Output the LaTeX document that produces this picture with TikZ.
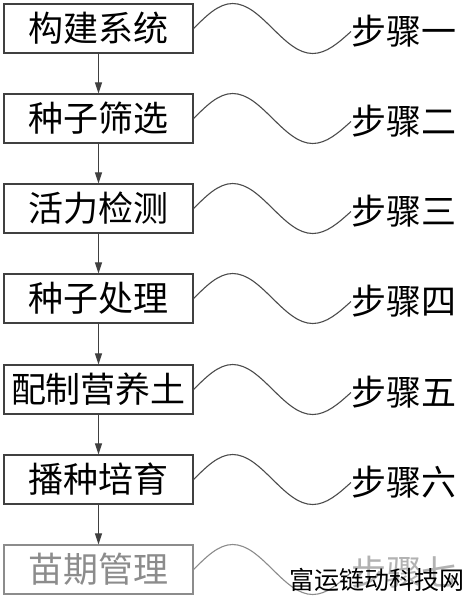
\documentclass[tikz,border=0pt]{standalone}
\usepackage{fontspec}
\newfontfamily\cjk{Noto Sans CJK SC}
\usetikzlibrary{arrows.meta}
\begin{document}
\begin{tikzpicture}[x=1pt,y=-1pt,
  stepbox/.style={draw=black!75, line width=1.3pt, minimum width=189pt, minimum height=49pt, inner sep=0pt, font=\cjk\fontsize{35}{35}\selectfont},
  steplabel/.style={anchor=west, inner sep=0pt, font=\cjk\fontsize{35}{35}\selectfont},
  flow/.style={draw=black!75, line width=1.2pt, -{Triangle[width=7pt,length=11pt]}},
  wave/.style={draw=black!70, line width=1.1pt}]
\fill[white] (0,0) rectangle (466,600);
\useasboundingbox (0,0) rectangle (466,600);
\node[stepbox] (b1) at (98.5,28.5) {构建系统};
\node[stepbox] (b2) at (98.5,118.5) {种子筛选};
\node[stepbox] (b3) at (98.5,208.5) {活力检测};
\node[stepbox] (b4) at (98.5,298.5) {种子处理};
\node[stepbox] (b5) at (98.5,389.5) {配制营养土};
\node[stepbox] (b6) at (98.5,479.5) {播种培育};
\node[stepbox, draw=black!45, text=black!45] (b7) at (98.5,569.5) {苗期管理};
\node[steplabel] (l1) at (351,31.5) {步骤一};
\node[steplabel] (l2) at (351,121.5) {步骤二};
\node[steplabel] (l3) at (351,211.5) {步骤三};
\node[steplabel] (l4) at (351,301.5) {步骤四};
\node[steplabel] (l5) at (351,392.5) {步骤五};
\node[steplabel] (l6) at (351,482.5) {步骤六};
\node[steplabel, text=black!30] (l7) at (351,572.5) {步骤七};
\foreach \i/\j in {1/2,2/3,3/4,4/5,5/6,6/7}{
  \draw[flow] (b\i.south) -- (b\j.north);
}
\foreach \i in {1,...,6}{
  \draw[wave] (b\i.east) sin ++(39,-25) cos ++(40,25) sin ++(40,25) cos (l\i.west);
}
\draw[wave, draw=black!45] (b7.east) sin ++(39,-25) cos ++(40,25) sin ++(40,25) cos (l7.west);
\node[anchor=west, inner sep=0pt, font=\cjk\fontsize{25}{25}\selectfont] (wm) at (289,580) {富运链动科技网};
\end{tikzpicture}
\end{document}
